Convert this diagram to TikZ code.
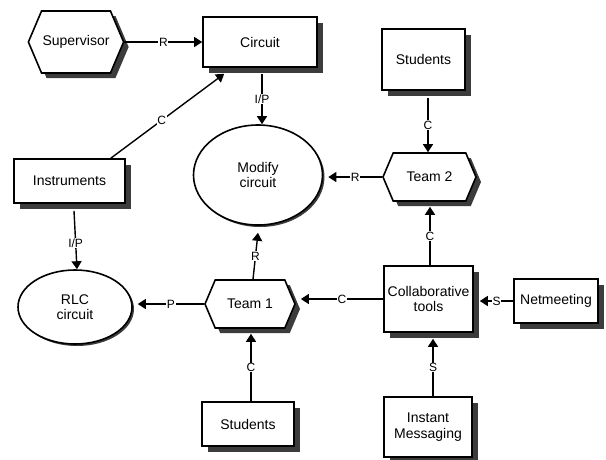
\documentclass[tikz,border=0pt]{standalone}
\usepackage{fontspec}
\setmainfont{Liberation Sans}
\usetikzlibrary{shapes.symbols,shapes.geometric,shadows,arrows.meta,calc}
\definecolor{shd}{HTML}{3C3C3C}
\begin{document}
\begin{tikzpicture}[x=1pt,y=-1pt,
  every node/.style={font=\fontsize{14}{15.5}\selectfont, align=center, inner sep=1pt},
  box/.style={draw, line width=1.6pt, fill=white, rectangle,
    drop shadow={shadow xshift=6pt, shadow yshift=-6pt, fill=shd, opacity=1}},
  hexa/.style={draw, line width=1.6pt, fill=white, signal, signal to=west and east,
    signal pointer angle=134,
    drop shadow={shadow xshift=5pt, shadow yshift=-5pt, fill=shd, opacity=1}},
  oval/.style={draw, line width=1.6pt, fill=white, ellipse,
    drop shadow={shadow xshift=2pt, shadow yshift=-2pt, fill=shd, opacity=1}},
  conn/.style={line width=1.4pt, -{Triangle[width=10pt,length=8pt]}},
  lab/.style={fill=white, inner sep=0.6pt, font=\fontsize{12}{13}\selectfont}
]
\useasboundingbox[fill=white] (0,0) rectangle (606,459);

\node[hexa, minimum width=91pt, minimum height=62pt] (sup) at (76,42) {Supervisor};
\node[box, minimum width=114pt, minimum height=50pt] (cir) at (260,42) {Circuit};
\node[oval, minimum width=129pt, minimum height=100pt] (mod) at (258,175) {Modify\\circuit};
\node[box, minimum width=83pt, minimum height=61pt] (st2) at (423.5,59.5) {Students};
\node[hexa, minimum width=93pt, minimum height=48pt] (t2) at (429.5,177) {Team 2};
\node[box, minimum width=111pt, minimum height=44pt] (ins) at (69.5,181) {Instruments};
\node[oval, minimum width=114pt, minimum height=74pt] (rlc) at (75,307) {RLC\\circuit};
\node[hexa, minimum width=90pt, minimum height=48pt] (t1) at (250,304) {Team 1};
\node[box, minimum width=92pt, minimum height=44pt] (st1) at (248,424) {Students};
\node[box, minimum width=89pt, minimum height=66pt] (col) at (428.5,299) {Collaborative\\tools};
\node[box, minimum width=84pt, minimum height=44pt] (net) at (556,301) {Netmeeting};
\node[box, minimum width=88pt, minimum height=60pt] (im) at (428,427) {Instant\\Messaging};

\coordinate (me) at ($(mod.east)+(5,0)$);
\coordinate (re) at ($(rlc.east)+(5,0)$);
\coordinate (t1e) at ($(t1.east)+(5,0)$);
\coordinate (cole) at ($(col.east)+(6,0)$);

\draw[conn] (sup.east) -- node[lab]{R} (cir.west);
\draw[conn] ($(cir.south)+(2,6)$) -- node[lab]{I/P} ($(mod.north)+(4,0)$);
\draw[conn] ($(ins.north east)+(-15,0)$) -- node[lab,pos=0.45]{C} ($(cir.south west)+(22,6)$);
\draw[conn] ($(ins.south)+(4.5,7)$) -- node[lab,pos=0.55]{I/P} ($(rlc.north)+(2,0)$);
\draw[conn] (t2.west) -- node[lab]{R} (t2.west -| me);
\draw[conn] ($(st2.south)+(4.5,7)$) -- node[lab]{C} ($(t2.north)+(-1.5,0)$);
\draw[conn] (t1.west) -- node[lab]{P} (t1.west -| re);
\draw[conn] ($(t1.north)+(3,0)$) -- node[lab]{R} ($(mod.south)+(0,7)$);
\draw[conn] ($(st1.north)+(3,0)$) -- node[lab]{C} ($(t1.south)+(1,5)$);
\draw[conn] (col.west) -- node[lab]{C} (col.west -| t1e);
\draw[conn] ($(col.north)+(1.5,0)$) -- node[lab]{C} ($(t2.south)+(0.5,5)$);
\draw[conn] (net.west) -- node[lab]{S} (net.west -| cole);
\draw[conn] ($(im.north)+(5,0)$) -- node[lab]{S} ($(col.south)+(4.5,6)$);
\end{tikzpicture}
\end{document}
